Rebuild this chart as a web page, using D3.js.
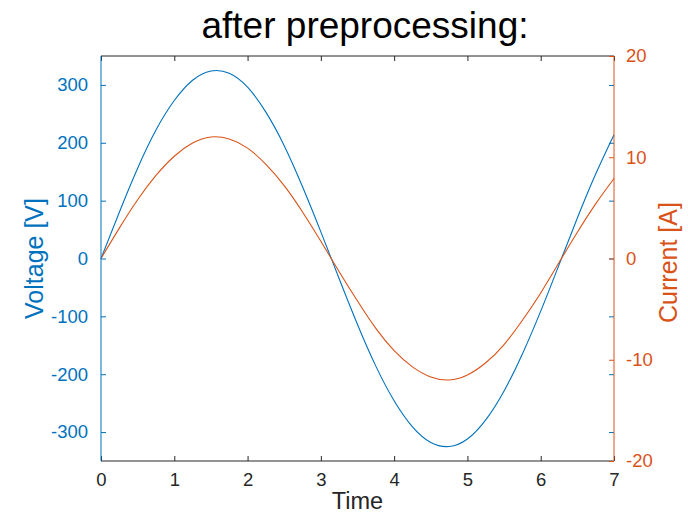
<!DOCTYPE html>
<html>
<head>
<meta charset="utf-8">
<script src="https://cdn.jsdelivr.net/npm/d3@7"></script>
<style>
  body { margin: 0; background: #fff; }
  text { font-family: "Liberation Sans", Arial, Helvetica, sans-serif; }
</style>
</head>
<body>
<div id="container"></div>
<script>
// values
const time = [0, 0.25, 0.5, 0.75, 1, 1.25, 1.5, 1.75, 2, 2.25, 2.5, 2.75, 3, 3.25, 3.5,
    3.75, 4, 4.25, 4.5, 4.75, 5, 5.25, 5.5, 5.75, 6, 6.25, 6.5, 6.75, 7]
const voltage = [0, 80, 156, 222, 273, 308, 324, 320, 296, 253, 195, 124, 46, -35, -114,
    -186, -246, -291, -318, -325, -312, -279, -229, -165, -91, -11, 70, 146, 214]
const current = [0, 3.0, 5.8, 8.2, 10.1, 11.4, 12.0, 11.8, 10.9, 9.3, 7.2, 4.6, 1.7, -1.3, -4.2,
    -6.9, -9.1, -10.7, -11.7, -12.0, -11.5, -10.3, -8.5, -6.1, -3.4, -0.4, 2.6, 5.4, 7.9]
const xTicks = [0, 1, 2, 3, 4, 5, 6, 7]
const leftTicks = [-300, -200, -100, 0, 100, 200, 300]
const rightTicks = [-20, -10, 0, 10, 20]

const blue = '#0072BD'
const orange = '#D95319'
const dark = '#262626'

const width = 688
const height = 513
const margin = { top: 56, right: 74, bottom: 52, left: 101 }

const svg = d3.select('#container')
    .append('svg')
    .attr('width', width)
    .attr('height', height)

const xScale = d3.scaleLinear()
    .domain([0, 7])
    .range([margin.left, width - margin.right])
const yLeft = d3.scaleLinear()
    .domain([-350, 350])
    .range([height - margin.bottom, margin.top])
const yRight = d3.scaleLinear()
    .domain([-20, 20])
    .range([height - margin.bottom, margin.top])

const x0 = margin.left, x1 = width - margin.right
const y0 = height - margin.bottom, y1 = margin.top

// plain hyphen for negatives, like the original
const fmt = d => String(d)

// lines
const voltLine = d3.line()
    .x((d, i) => xScale(time[i]))
    .y(d => yLeft(d))
    .curve(d3.curveNatural)
const currLine = d3.line()
    .x((d, i) => xScale(time[i]))
    .y(d => yRight(d))
    .curve(d3.curveNatural)

svg.append('path')
    .attr('d', voltLine(voltage))
    .attr('fill', 'none')
    .attr('stroke', blue)
    .attr('stroke-width', 1.1)
svg.append('path')
    .attr('d', currLine(current))
    .attr('fill', 'none')
    .attr('stroke', orange)
    .attr('stroke-width', 1.1)

// bottom + top (mirrored ticks)
const xAxis = d3.axisBottom(xScale).tickValues(xTicks).tickSize(-5).tickPadding(12).tickFormat(fmt)
const gx = svg.append('g')
    .attr('id', 'x-axis')
    .attr('transform', `translate(0, ${y0})`)
    .call(xAxis)
gx.select('.domain').attr('stroke', dark).attr('d', `M${x0},0H${x1}`)
gx.selectAll('.tick line').attr('stroke', dark)
gx.selectAll('.tick text').attr('fill', dark).attr('font-size', 18.5)

const gxTop = svg.append('g')
    .attr('transform', `translate(0, ${y1})`)
    .call(d3.axisTop(xScale).tickValues(xTicks).tickSize(-5).tickFormat(''))
gxTop.select('.domain').attr('stroke', dark).attr('d', `M${x0},0H${x1}`)
gxTop.selectAll('.tick line').attr('stroke', dark)

// left axis
const gl = svg.append('g')
    .attr('id', 'y-left')
    .attr('transform', `translate(${x0}, 0)`)
    .call(d3.axisLeft(yLeft).tickValues(leftTicks).tickSize(-5).tickPadding(13).tickFormat(fmt))
gl.select('.domain').attr('stroke', blue).attr('d', `M0,${y0}V${y1}`)
gl.selectAll('.tick line').attr('stroke', blue)
gl.selectAll('.tick text').attr('fill', blue).attr('font-size', 18.5)

// left ticks mirrored on right side
const glm = svg.append('g')
    .attr('transform', `translate(${x1}, 0)`)
    .call(d3.axisRight(yLeft).tickValues(leftTicks).tickSize(-5).tickFormat(''))
glm.select('.domain').remove()
glm.selectAll('.tick line').attr('stroke', blue)

// right axis
const gr = svg.append('g')
    .attr('id', 'y-right')
    .attr('transform', `translate(${x1}, 0)`)
    .call(d3.axisRight(yRight).tickValues(rightTicks).tickSize(-5).tickPadding(12).tickFormat(fmt))
gr.select('.domain').attr('stroke', orange).attr('d', `M0,${y0}V${y1}`)
gr.selectAll('.tick line').attr('stroke', orange)
gr.selectAll('.tick text').attr('fill', orange).attr('font-size', 18.5)

// labels
svg.append('text')
    .text('after preprocessing:')
    .attr('x', 365)
    .attr('y', 38)
    .attr('text-anchor', 'middle')
    .attr('font-size', 37)
    .attr('fill', '#000')

svg.append('text')
    .text('Time')
    .attr('x', (x0 + x1) / 2)
    .attr('y', 509)
    .attr('text-anchor', 'middle')
    .attr('font-size', 23.5)
    .attr('fill', dark)

svg.append('text')
    .text('Voltage [V]')
    .attr('transform', `translate(43, ${(y0 + y1) / 2}) rotate(-90)`)
    .attr('text-anchor', 'middle')
    .attr('font-size', 25)
    .attr('fill', blue)

svg.append('text')
    .text('Current [A]')
    .attr('transform', `translate(677, ${(y0 + y1) / 2 + 4}) rotate(-90)`)
    .attr('text-anchor', 'middle')
    .attr('font-size', 25)
    .attr('fill', orange)
</script>
</body>
</html>
